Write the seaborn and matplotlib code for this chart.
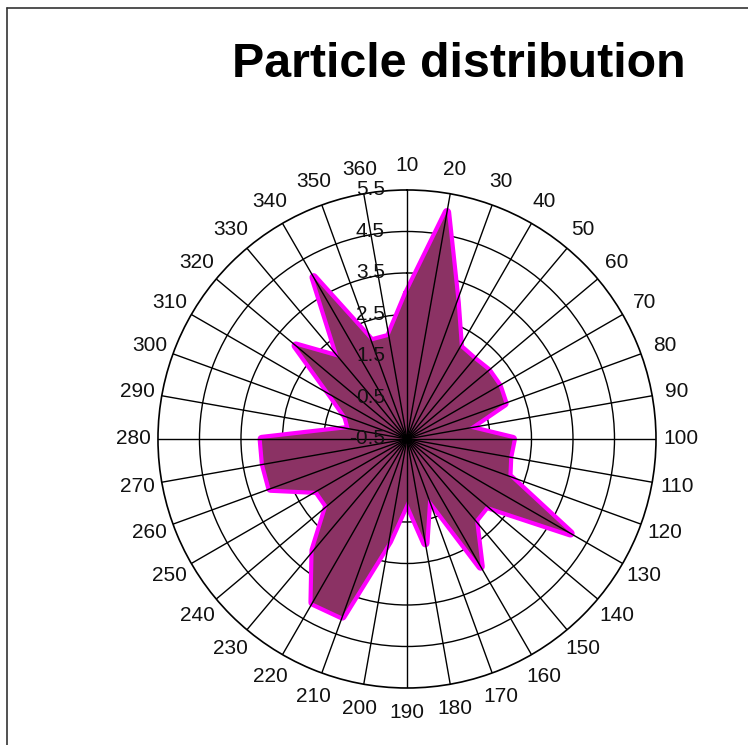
import numpy as np
import pandas as pd
import matplotlib
matplotlib.use("Agg")
import matplotlib.pyplot as plt
import matplotlib.transforms as mtransforms
from matplotlib.lines import Line2D
import seaborn as sns

# ---- data ----
angle_labels = [10, 20, 30, 40, 50, 60, 70, 80, 90, 100, 110, 120,
                130, 140, 150, 160, 170, 180, 190, 200, 210, 220, 230, 240,
                250, 260, 270, 280, 290, 300, 310, 320, 330, 340, 350, 360]
values = [3.0, 5.05, 3.0, 2.05, 2.0, 2.05, 2.05, 2.0, 1.0, 2.05, 2.0, 2.1,
          4.05, 2.0, 2.05, 3.05, 1.0, 2.05, 1.0, 2.0, 4.05, 4.05, 3.0, 2.0,
          2.0, 3.0, 3.0, 3.0, 0.9, 1.05, 1.6, 3.0, 2.05, 4.0, 2.0, 2.0]
r_ticks = [-0.5, 0.5, 1.5, 2.5, 3.5, 4.5, 5.5]
r_tick_labels = ["-0.5", "0.5", "1.5", "2.5", "3.5", "4.5", "5.5"]
title = "Particle distribution"

sns.set_theme(style="white")
plt.rcParams["font.family"] = ["Liberation Sans", "DejaVu Sans"]

theta = np.deg2rad(np.array(angle_labels) - angle_labels[0])
df = pd.DataFrame({"theta": np.append(theta, theta[0] + 2 * np.pi),
                   "r": np.append(values, values[0])})

fig = plt.figure(figsize=(7.48, 7.45), dpi=100)
fig.patch.set_facecolor("white")
ax = fig.add_axes([0.2112, 0.0765, 0.6658, 0.6685], projection="polar")
ax.set_facecolor("white")
ax.set_theta_zero_location("N")
ax.set_theta_direction(-1)
ax.set_ylim(r_ticks[0], r_ticks[-1])

ax.set_xticks(theta)
ax.set_xticklabels([])
ax.set_yticks(r_ticks[1:-1])
ax.set_yticklabels([])
ax.xaxis.grid(True, color="black", linewidth=1.0)
ax.yaxis.grid(True, color="black", linewidth=1.0)
ax.set_axisbelow(True)
ax.xaxis.set_zorder(3)
ax.yaxis.set_zorder(0.5)
ax.spines["polar"].set_color("black")
ax.spines["polar"].set_linewidth(1.2)
ax.tick_params(length=0, pad=0)

# edge + fill
sns.lineplot(data=df, x="theta", y="r", sort=False, ax=ax, color="#FF00FF",
             linewidth=6, zorder=1.5, legend=False)
for ln in ax.get_lines():
    ln.set_solid_joinstyle("round")
ax.fill(df["theta"], df["r"], color="#8B3264", zorder=2, linewidth=0)
ax.set_xlabel("")
ax.set_ylabel("")

# angle labels
lab_r = r_ticks[-1] + 0.6
for t, lab in zip(theta, angle_labels):
    ax.text(t, lab_r, str(lab), ha="center", va="center", fontsize=15,
            color="#111111", clip_on=False, zorder=5)

# radial labels
off = mtransforms.ScaledTranslation(-0.22, 0, fig.dpi_scale_trans)
for rv, rl in zip(r_ticks, r_tick_labels):
    ax.text(0, rv, rl, ha="right", va="center", fontsize=15, color="#111111",
            transform=ax.transData + off, clip_on=False, zorder=5)

fig.text(0.614, 0.914, title, ha="center", va="center", fontsize=34.8,
         fontweight="bold", color="black")

# frame lines (top and left)
fig.add_artist(Line2D([7 / 748, 7 / 748], [0, 1 - 8 / 745], transform=fig.transFigure,
                      color="#333333", linewidth=1.2))
fig.add_artist(Line2D([7 / 748, 1], [1 - 8 / 745, 1 - 8 / 745], transform=fig.transFigure,
                      color="#333333", linewidth=1.2))

fig.savefig("out.png", dpi=100, facecolor="white")
